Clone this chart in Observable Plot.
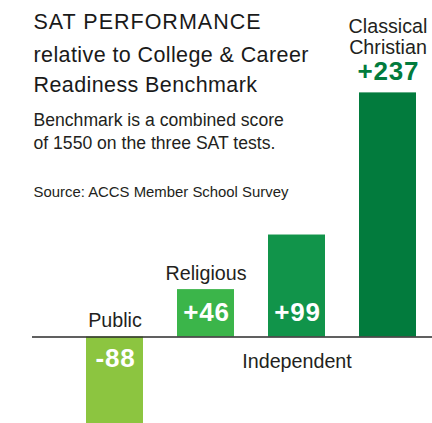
<!DOCTYPE html>
<html>
<head>
<meta charset="utf-8">
<script src="https://cdn.jsdelivr.net/npm/d3@7"></script>
<script src="https://cdn.jsdelivr.net/npm/@observablehq/plot@0.6"></script>
<style>
  html, body { margin: 0; padding: 0; background: #fff; }
  #chart { width: 432px; height: 423px; overflow: hidden; }
</style>
</head>
<body>
<div id="chart"></div>
<script>
const categories = ["Public", "Religious", "Independent", "Classical\nChristian"];
const values = [-88, 46, 99, 237];
const valueLabels = ["-88", "+46", "+99", "+237"];
const barColors = ["#8cc540", "#3bb54a", "#11944a", "#027b3d"];

const titleLines = ["SAT PERFORMANCE", "relative to College & Career", "Readiness Benchmark"];
const noteLines = ["Benchmark is a combined score", "of 1550 on the three SAT tests."];
const sourceLine = "Source: ACCS Member School Survey";

const data = categories.map((c, i) => ({category: c, value: values[i], label: valueLabels[i], color: barColors[i], i}));

const font = "'Liberation Sans', Arial, Helvetica, sans-serif";
const ink = "#231f20";

const inside = data.filter(d => d.i < 3);
const aboveCat = data.filter(d => d.i === 0 || d.i === 1);
const belowCat = data.filter(d => d.i === 2);
const topBar = data.filter(d => d.i === 3);

function line(text, baseline, size, fill) {
  return Plot.text([text], {frameAnchor: "top-left", text: d => d, textAnchor: "start", lineAnchor: "bottom",
    dx: 1, dy: baseline, fontSize: size, fill: fill || ink});
}

const chart = Plot.plot({
  width: 432,
  height: 423,
  marginLeft: 32,
  marginRight: 0,
  marginTop: 0,
  marginBottom: 0,
  style: {fontFamily: font, background: "#fff", overflow: "hidden"},
  x: {type: "band", domain: categories, range: [85, 418], paddingInner: 0.37, paddingOuter: 0, axis: null},
  y: {domain: [-84, 326.7], range: [423, 0], axis: null},
  color: {type: "identity"},
  marks: [
    Plot.barY(data, {x: "category", y: "value", fill: "color", clip: true}),
    Plot.ruleY([0], {stroke: "#2b2b2b", strokeWidth: 1.3}),
    // category labels
    Plot.text(aboveCat, {x: "category", y: d => Math.max(0, d.value), text: "category", lineAnchor: "bottom", dy: -9.5, fontSize: 19.7, fill: ink}),
    Plot.text(belowCat, {x: "category", y: () => 0, text: "category", lineAnchor: "bottom", dy: 31, fontSize: 19.7, fill: ink}),
    Plot.text(topBar, {x: "category", y: "value", text: "category", lineAnchor: "bottom", dy: -38.4, fontSize: 19.7, lineHeight: 1.1, fill: ink}),
    // value labels
    Plot.text(inside.filter(d => d.value > 0), {x: "category", y: () => 0, text: "label", lineAnchor: "bottom", dy: -15.5, fontSize: 26, fontWeight: "bold", fill: "white"}),
    Plot.text(inside.filter(d => d.value < 0), {x: "category", y: () => 0, text: "label", lineAnchor: "bottom", dy: 30, fontSize: 26, fontWeight: "bold", fill: "white"}),
    Plot.text(topBar, {x: "category", y: "value", text: "label", lineAnchor: "bottom", dy: -13, fontSize: 26, fontWeight: "bold", fill: d => d.color}),
    // title block
    line(titleLines[0], 28.3, 21.5, "#1a1a1a"),
    line(titleLines[1], 61.7, 21.5, "#1a1a1a"),
    line(titleLines[2], 91.7, 21.5, "#1a1a1a"),
    line(noteLines[0], 125, 17.6),
    line(noteLines[1], 148.3, 17.6),
    line(sourceLine, 196.7, 14.9)
  ]
});

// letter spacing tweaks to approximate the wider original typeface
const svg = d3.select(chart);
function spacing(texts, px, shift) {
  const sel = svg.selectAll("text").filter(function () { return texts.includes(this.textContent); });
  sel.attr("letter-spacing", px);
  if (shift) sel.attr("dx", shift);
}
spacing(valueLabels, 0.8, 0.4);
spacing([titleLines[0]], 1);
spacing(titleLines.slice(1), 0.4);

document.getElementById("chart").appendChild(chart);
</script>
</body>
</html>
